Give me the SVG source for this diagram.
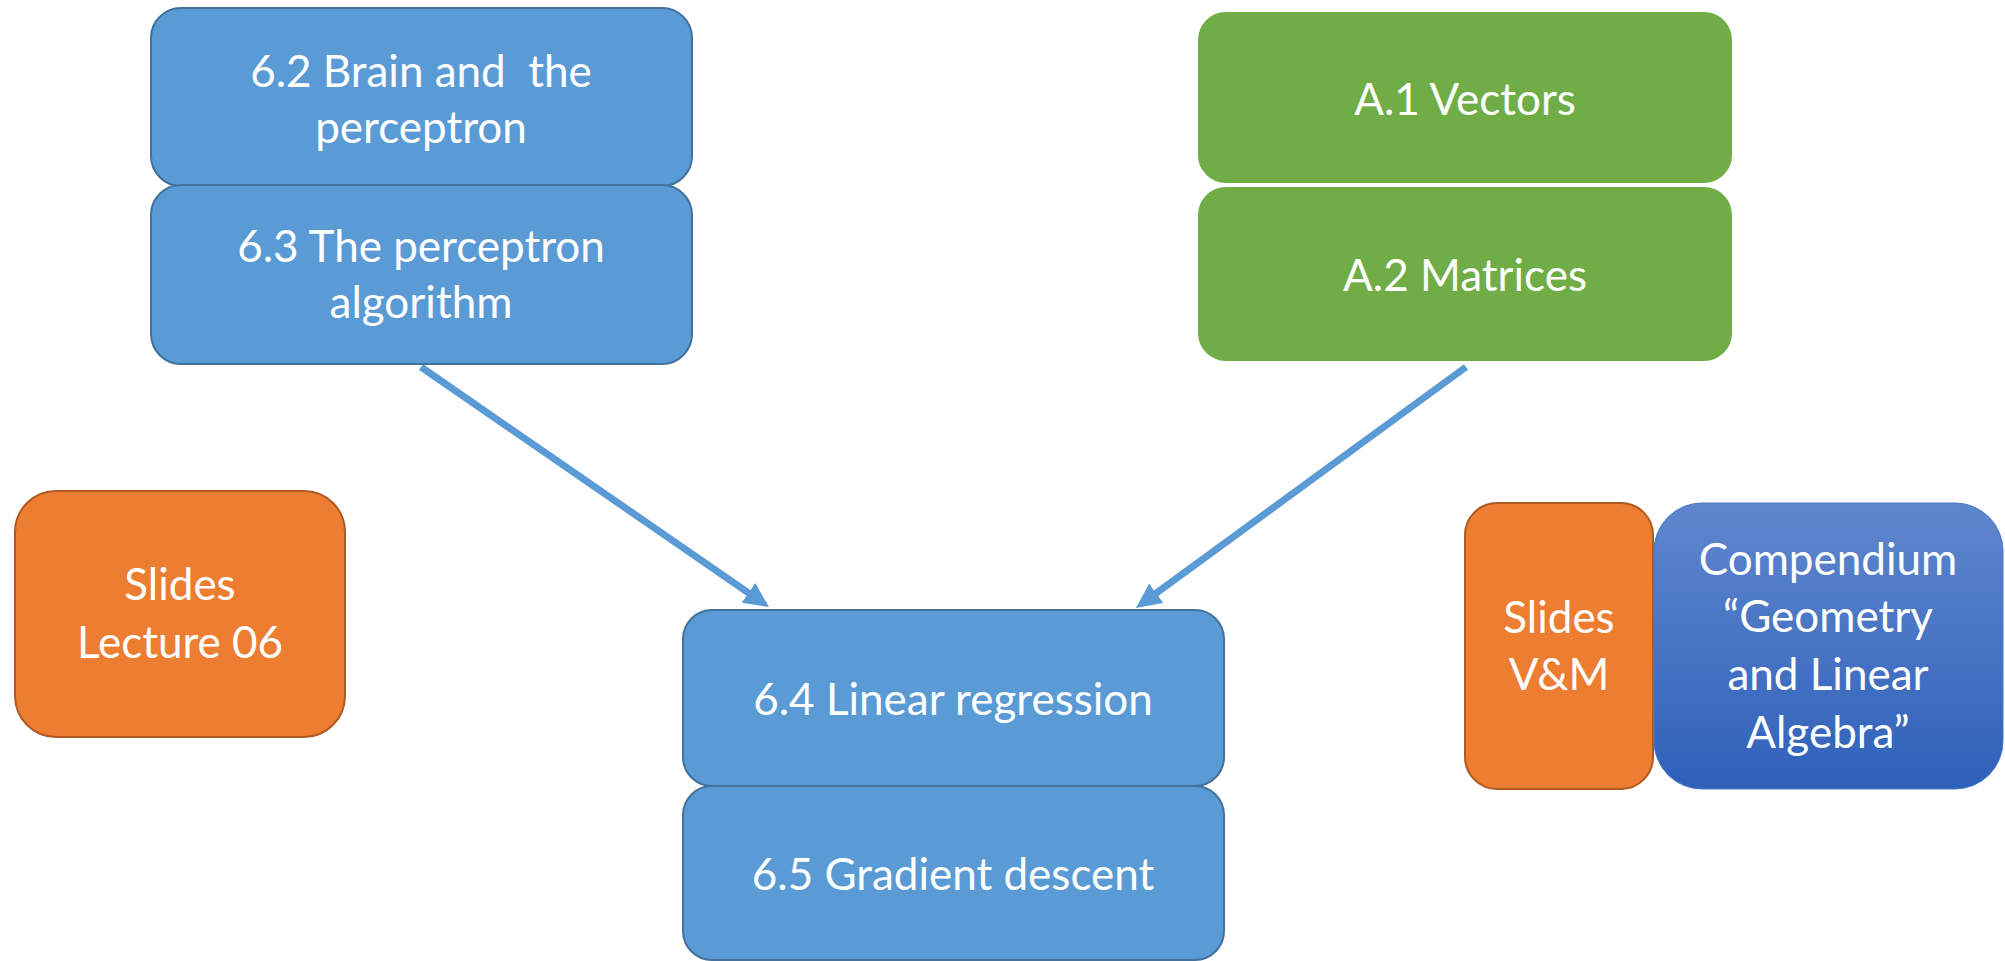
<svg xmlns="http://www.w3.org/2000/svg" width="2005" height="961" viewBox="0 0 2005 961">
  <defs>
    <style>
      .blue { fill: #5B9BD5; stroke: #41719C; stroke-width: 2; }
      .green { fill: #70AD47; stroke: #FFFFFF; stroke-width: 2; }
      .orange { fill: #ED7D31; stroke: #AE5A21; stroke-width: 2; }
      .book { fill: url(#bookFill); stroke: #4A78C4; stroke-width: 1; }
      .label { font-family: Lato, "Open Sans", "Liberation Sans", sans-serif; font-size: 44px; fill: #FFFFFF; text-anchor: middle; }
      .link { stroke: #5B9BD5; stroke-width: 7; fill: none; marker-end: url(#head); }
    </style>
    <linearGradient id="bookFill" x1="0" y1="0" x2="0" y2="1">
      <stop offset="0" stop-color="#5F87CD"/>
      <stop offset="1" stop-color="#2F60BA"/>
    </linearGradient>
    <marker id="head" markerUnits="userSpaceOnUse" markerWidth="26" markerHeight="24" viewBox="0 0 26 24" refX="11" refY="12" orient="auto">
      <path d="M0,0 L25,12 L0,24 z" fill="#5B9BD5"/>
    </marker>
  </defs>

  <g id="connectors">
    <line class="link" x1="421" y1="367" x2="757.5" y2="599.1"/>
    <line class="link" x1="1466" y1="367" x2="1147.3" y2="599.7"/>
  </g>

  <g id="n62">
    <rect class="blue" x="151" y="8" width="541" height="178" rx="30" ry="30"/>
    <text class="label" x="421" y="87" xml:space="preserve">6.2 Brain and  the</text>
    <text class="label" x="421" y="143">perceptron</text>
  </g>
  <g id="n63">
    <rect class="blue" x="151" y="185" width="541" height="179" rx="30" ry="30"/>
    <text class="label" x="421" y="262">6.3 The perceptron</text>
    <text class="label" x="421" y="318">algorithm</text>
  </g>

  <g id="a1">
    <rect class="green" x="1197" y="11" width="536" height="173" rx="29" ry="29"/>
    <text class="label" x="1465" y="115">A.1 Vectors</text>
  </g>
  <g id="a2">
    <rect class="green" x="1197" y="186" width="536" height="176" rx="29" ry="29"/>
    <text class="label" x="1465" y="291">A.2 Matrices</text>
  </g>

  <g id="slides06">
    <rect class="orange" x="15" y="491" width="330" height="246" rx="41" ry="41"/>
    <text class="label" x="180" y="600">Slides</text>
    <text class="label" x="180" y="658">Lecture 06</text>
  </g>

  <g id="n64">
    <rect class="blue" x="683" y="610" width="541" height="176" rx="29" ry="29"/>
    <text class="label" x="953" y="715">6.4 Linear regression</text>
  </g>
  <g id="n65">
    <rect class="blue" x="683" y="786" width="541" height="174" rx="29" ry="29"/>
    <text class="label" x="953" y="890">6.5 Gradient descent</text>
  </g>

  <g id="slidesVM">
    <rect class="orange" x="1465" y="503" width="188" height="286" rx="32" ry="32"/>
    <text class="label" x="1559" y="633">Slides</text>
    <text class="label" x="1559" y="690">V&amp;M</text>
  </g>

  <g id="compendium">
    <rect class="book" x="1654" y="503" width="349" height="286" rx="48" ry="48"/>
    <text class="label" x="1828" y="575">Compendium</text>
    <text class="label" x="1828" y="632">“Geometry</text>
    <text class="label" x="1828" y="690">and Linear</text>
    <text class="label" x="1828" y="748">Algebra”</text>
  </g>
</svg>
